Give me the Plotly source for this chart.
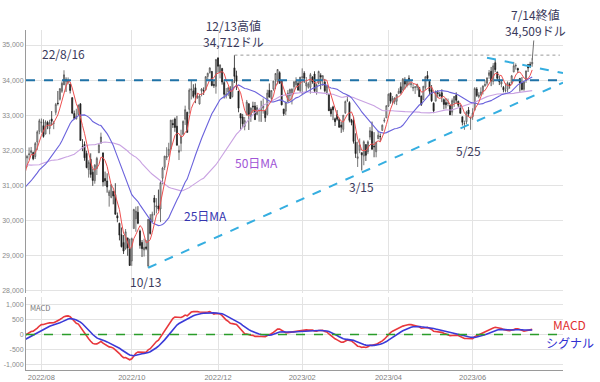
import pandas as pd
import plotly.graph_objects as go

# ---------------- data ----------------
holidays = ['2022-05-30', '2022-06-20', '2022-07-04', '2022-09-05', '2022-11-24', '2022-12-26',
            '2023-01-02', '2023-01-16', '2023-02-20', '2023-04-07', '2023-05-29', '2023-06-19', '2023-07-04']

# closes before the visible window (used only for moving averages / MACD warm-up)
warm_close = [33062, 33129, 34061, 32998, 32899, 32246, 32161, 31834, 31730, 32197, 32223, 32655, 31490, 31254,
              31262, 31880, 31929, 32120, 32637, 33213, 32990,
              32813, 33248, 32900, 32916, 33180, 32910, 32273, 31393, 30517, 30365, 30669, 29927, 29889, 30530,
              30484, 30677, 31501, 31439, 30947, 31029, 30775,
              31097, 30968, 31037, 31385, 31338, 31174, 30982, 30773, 30631, 31288, 31073, 31828, 31874]

opens = [31786, 31879, 31940, 31939, 31827, 32239, 32542,
         32784, 32704, 32464, 32794, 32622, 32893, 32771, 33084, 33344, 33457, 33683, 33864, 34011, 33943, 33890, 33501, 33049, 32896, 33023, 33325, 32106, 32175, 31914,
         31454, 31748, 31380, 31138, 31483, 31932, 32203, 31930, 31202, 31131, 30717, 30664, 30841, 30741, 30141, 29926, 29601, 29378, 29207, 29511, 29208,
         28855, 29776, 30055, 30241, 29706, 29381, 29169, 29255, 28713, 30049, 29979, 30645, 30389, 30416, 30333, 31207, 31519, 31796, 31872, 32048, 32767,
         32894, 32690, 31945, 32202, 32459, 32889, 33083, 33170, 33718, 33697, 33781, 33495, 33323, 33687, 33708, 33729, 34105, 34219, 34249, 33875, 33825,
         34634, 34225, 34329, 33930, 33580, 33663, 33721, 33533, 34349, 34125, 33688, 33044, 32950, 32684, 33006, 33331, 32961, 33264, 33265, 33021, 33121,
         33149, 33206, 33115, 33026, 33710, 33480, 33747, 34002, 33950, 34212, 33990, 33180, 33118, 33392, 33560, 33602, 33812, 33867, 33910, 33700,
         34080, 34199, 33834, 33798, 33796, 34087, 34174, 33652, 33908, 34135, 34017, 33946, 33648, 33585, 33177, 33239, 32900, 33024, 32879,
         32722, 32600, 33071, 33430, 33362, 32872, 32853, 32236, 31773, 32007, 31937, 31841, 32167, 31959, 32380, 32536, 32121, 31963, 32330, 32397, 32570, 32835, 32926,
         33262, 33636, 33370, 33386, 33400, 33617, 33810, 33726, 34002, 33844, 34053, 33876, 33777, 33794, 33793, 33793, 33546, 33445, 33796,
         34132, 33965, 33722, 33342, 33401, 33642, 33588, 33640, 33445, 33361, 33342, 33276, 33090, 33360, 33568, 33401, 33241, 32959, 32758, 32816, 33148, 32905,
         32956, 33144, 33745, 33529, 33587, 33675, 33842, 33913, 34135, 34252, 33963, 34495, 34227, 34008, 33890, 33795, 33698, 33738, 33885, 33917, 34234,
         34400, 34334, 34050, 33917, 33740, 33990, 34447, 34452, 34462]

highs = [31874, 32085, 32098, 31967, 32241, 32571, 32900,
         32909, 32884, 32857, 32843, 32873, 33120, 32838, 33351, 33692, 33761, 33963, 34281, 34079, 34077, 33890, 33512, 33134, 33186, 33300, 33343, 32321, 32256, 31991,
         31719, 31918, 31481, 31611, 31818, 32191, 32506, 31940, 31398, 31348, 30878, 31038, 30844, 31067, 30232, 29942, 29807, 29592, 29763, 29511, 29487,
         29519, 30340, 30400, 30414, 29748, 29450, 29489, 29449, 30039, 30185, 30257, 30730, 30643, 30886, 31125, 31534, 31844, 32091, 32218, 32871, 32878,
         32936, 32982, 32140, 32589, 32855, 33274, 33103, 33765, 33987, 33884, 33905, 33630, 33603, 33775, 33795, 34115, 34212, 34365, 34257, 33981, 34590,
         34634, 34451, 34350, 34016, 33776, 33811, 33828, 34009, 34712, 34270, 33688, 33054, 33039, 32951, 33436, 33331, 33226, 33387, 33379, 33293, 33152,
         33414, 33479, 33151, 33727, 33906, 33707, 33974, 34199, 34317, 34252, 34000, 33180, 33375, 33716, 33760, 33765, 33977, 34082, 33990, 34086,
         34335, 34255, 34088, 33944, 34205, 34113, 34252, 33897, 34271, 34196, 34139, 34035, 33852, 33598, 33229, 33271, 32937, 33148, 32932,
         32818, 33004, 33420, 33572, 33400, 32899, 32963, 32487, 32248, 32341, 31937, 32286, 32167, 32285, 32663, 32820, 32520, 32238, 32556, 32484, 32740, 32931, 33275,
         33618, 33641, 33549, 33514, 33607, 33768, 33940, 34060, 34082, 33988, 34138, 33971, 33895, 33824, 33902, 33793, 33561, 33827, 34104,
         34257, 33965, 33860, 33369, 33711, 33717, 33664, 33740, 33480, 33490, 33475, 33294, 33478, 33547, 33652, 33415, 33305, 32959, 32848, 33128, 33236, 32967,
         33200, 33800, 33800, 33655, 33795, 33848, 33993, 34069, 34289, 34376, 34485, 34588, 34245, 34120, 33984, 33834, 33912, 33963, 33936, 34147, 34519,
         34476, 34353, 34050, 34087, 33980, 34272, 34447, 34523, 34630]

lows = [31523, 31735, 31875, 31721, 31758, 32014, 32461,
        32504, 32362, 32464, 32604, 32459, 32716, 32604, 33011, 33281, 33421, 33638, 33864, 33666, 33878, 33621, 33031, 32884, 32882, 32984, 32270, 31979, 31705, 31494,
        31226, 31222, 30991, 31053, 31301, 31932, 32203, 30976, 30990, 30797, 30400, 30638, 30467, 30172, 29956, 29440, 29240, 29053, 29171, 29003, 28715,
        28715, 29776, 29685, 29901, 29203, 28966, 28981, 29161, 28661, 29605, 29959, 30154, 30206, 30277, 29960, 31033, 31439, 31724, 31821, 32000, 32641,
        32530, 32144, 31727, 31972, 32435, 32724, 32498, 33048, 33451, 33485, 33345, 33471, 33309, 33540, 33577, 33700, 34018, 34186, 33826, 33781, 33615,
        34213, 34050, 33872, 33477, 33480, 33544, 33466, 33507, 33918, 33718, 33085, 32574, 32634, 32573, 33006, 32582, 32813, 33069, 32869, 33021, 32818,
        32813, 33047, 32812, 32994, 33500, 33417, 33700, 33744, 33878, 33899, 33284, 32982, 33005, 33390, 33407, 33308, 33667, 33795, 33700, 33646,
        33583, 33920, 33667, 33757, 33616, 33897, 33634, 33585, 33880, 33738, 33835, 33651, 33574, 33124, 32962, 32862, 32696, 32846, 32656,
        32500, 32529, 33040, 33377, 32799, 32715, 32194, 31787, 31529, 31922, 31429, 31579, 31699, 31895, 32302, 32030, 31805, 31805, 32330, 32268, 32556, 32789, 32926,
        33237, 33330, 33313, 33314, 33290, 33617, 33600, 33700, 33740, 33791, 33850, 33788, 33686, 33608, 33708, 33519, 33264, 33445, 33725,
        33995, 33570, 33380, 33060, 33401, 33508, 33522, 33374, 33171, 33189, 33256, 33011, 32994, 33239, 33330, 33234, 33050, 32711, 32587, 32746, 32960, 32586,
        32869, 33144, 33522, 33484, 33556, 33594, 33812, 33846, 34038, 33830, 33873, 34234, 33997, 33860, 33797, 33654, 33650, 33654, 33757, 33904, 34224,
        34300, 34203, 33672, 33705, 33695, 33924, 34231, 34344, 34381]

closes = [31827, 31899, 31990, 31762, 32197, 32529, 32845,
          32798, 32397, 32813, 32726, 32803, 32832, 32774, 33309, 33336, 33761, 33912, 34152, 33980, 33999, 33706, 33063, 32909, 32969, 33291, 32283, 32098, 31790, 31510,
          31656, 31318, 31145, 31581, 31775, 32152, 32381, 31105, 31135, 30962, 30822, 31020, 30706, 30184, 30077, 29590, 29260, 29135, 29684, 29226, 28726,
          29490, 30317, 30274, 29927, 29297, 29203, 29239, 29211, 30039, 29635, 30186, 30524, 30424, 30334, 31083, 31500, 31837, 31839, 32034, 32861, 32733,
          32653, 32148, 32001, 32403, 32827, 33161, 32514, 33716, 33748, 33537, 33593, 33554, 33547, 33746, 33700, 34098, 34195, 34347, 33849, 33853, 34590,
          34395, 34430, 33947, 33597, 33598, 33781, 33476, 34005, 34108, 33966, 33203, 32920, 32757, 32850, 33377, 33027, 33204, 33241, 32876, 33221, 33147,
          33136, 33270, 32930, 33631, 33518, 33704, 33974, 34190, 34303, 33910, 33297, 33045, 33375, 33630, 33734, 33744, 33950, 33978, 33717, 34086,
          34093, 34054, 33926, 33891, 34156, 33949, 33699, 33869, 34246, 34089, 34128, 33697, 33827, 33130, 33045, 33154, 32817, 32889, 32657,
          32662, 33004, 33391, 33431, 32856, 32798, 32255, 31910, 31819, 32155, 31875, 32247, 31862, 32245, 32561, 32030, 32105, 32238, 32433, 32395, 32718, 32860, 33274,
          33601, 33403, 33483, 33486, 33587, 33685, 33647, 34030, 33887, 33988, 33977, 33897, 33787, 33809, 33876, 33531, 33302, 33827, 34098,
          34051, 33684, 33414, 33128, 33675, 33619, 33562, 33531, 33310, 33301, 33349, 33012, 33420, 33535, 33427, 33286, 33056, 32800, 32765, 33093, 33043, 32908,
          33061, 33763, 33563, 33573, 33665, 33834, 33877, 34066, 34212, 33979, 34408, 34299, 34054, 33952, 33946, 33727, 33714, 33927, 33853, 34122, 34408,
          34418, 34288, 33922, 33735, 33944, 34262, 34347, 34395, 34509]

month_ticks = ['2022-08-01', '2022-10-03', '2022-12-01', '2023-02-01', '2023-04-03', '2023-06-01']
month_labels = ['2022/08', '2022/10', '2022/12', '2023/02', '2023/04', '2023/06']
y_ticks = [28000, 29000, 30000, 31000, 32000, 33000, 34000, 35000]
macd_ticks = [-1000, -500, 0, 500, 1000]
macd_labels = ['-1,000', '-500', '0', '500', '1,000']

resistance = 34000
high_1213 = ('2022-12-13', 34712)
trend_low = [('2022-10-13', 28661), ('end', 33930)]
trend_high = [('2023-06-12', 34640), ('end', 34200)]

# ---------------- prep ----------------
all_dates = pd.bdate_range('2022-05-02', '2023-07-14')
all_dates = all_dates[~all_dates.isin(pd.to_datetime(holidays))]
n_warm = len(warm_close)
assert len(all_dates) == n_warm + len(closes), (len(all_dates), n_warm, len(closes))
for arr in (opens, highs, lows):
    assert len(arr) == len(closes)

xi = list(range(-n_warm, len(closes)))  # trading-day index, 0 = first visible day
pos = {d.strftime('%Y-%m-%d'): i for d, i in zip(all_dates, xi)}
X_END = 261.0
def px(d):
    return X_END if d == 'end' else pos[d]

cs = pd.Series(warm_close + closes, dtype=float)
ma5 = cs.rolling(5).mean()
ma25 = cs.rolling(25).mean()
ma50 = cs.rolling(50).mean()
ema12 = cs.ewm(span=12, adjust=False).mean()
ema26 = cs.ewm(span=26, adjust=False).mean()
macd = ema12 - ema26
signal = macd.ewm(span=9, adjust=False).mean()

s = n_warm - 1  # include one earlier point so lines reach the left edge
xs = xi[s:]

TXT = '#3a3a5c'
FONT = 'Noto Sans CJK JP, Noto Sans, sans-serif'
TICKFONT = 'Liberation Sans, Arial, sans-serif'

fig = go.Figure()
fig.add_trace(go.Candlestick(
    x=xi[n_warm:], open=opens, high=highs, low=lows, close=closes,
    increasing=dict(fillcolor='#d6d6d6', line=dict(color='#555555', width=0.8)),
    decreasing=dict(fillcolor='#1e1e1e', line=dict(color='#1e1e1e', width=0.8)),
    whiskerwidth=0, xaxis='x', yaxis='y', showlegend=False, hoverinfo='skip'))
fig.add_trace(go.Scatter(x=xs, y=ma50[s:], mode='lines', line=dict(color='#c9a2e2', width=1.1),
                         xaxis='x', yaxis='y', showlegend=False, hoverinfo='skip'))
fig.add_trace(go.Scatter(x=xs, y=ma25[s:], mode='lines', line=dict(color='#6a62dc', width=1.1),
                         xaxis='x', yaxis='y', showlegend=False, hoverinfo='skip'))
fig.add_trace(go.Scatter(x=xs, y=ma5[s:], mode='lines', line=dict(color='#ee5050', width=1),
                         xaxis='x', yaxis='y', showlegend=False, hoverinfo='skip'))
fig.add_trace(go.Scatter(x=xs, y=macd[s:], mode='lines', line=dict(color='#e8383d', width=1.6),
                         xaxis='x2', yaxis='y2', showlegend=False, hoverinfo='skip'))
fig.add_trace(go.Scatter(x=xs, y=signal[s:], mode='lines', line=dict(color='#3a3ad8', width=1.6),
                         xaxis='x2', yaxis='y2', showlegend=False, hoverinfo='skip'))

tickpos = [pos[d] for d in month_ticks]
shapes = [
    dict(type='line', xref='x', yref='y', x0=-0.5, x1=X_END, y0=resistance, y1=resistance,
         line=dict(color='#1f72a6', width=2, dash='dash')),
    dict(type='line', xref='x', yref='y', x0=pos[high_1213[0]], x1=259.5, y0=high_1213[1], y1=high_1213[1],
         line=dict(color='#9a9a9a', width=1, dash='dot')),
    dict(type='line', xref='x', yref='y', x0=px(trend_low[0][0]), y0=trend_low[0][1],
         x1=px(trend_low[1][0]), y1=trend_low[1][1], line=dict(color='#35aee0', width=2, dash='dash')),
    dict(type='line', xref='x', yref='y', x0=px(trend_high[0][0]), y0=trend_high[0][1],
         x1=px(trend_high[1][0]), y1=trend_high[1][1], line=dict(color='#35aee0', width=2, dash='dash')),
    dict(type='line', xref='x2', yref='y2', x0=-0.5, x1=X_END, y0=0, y1=0,
         line=dict(color='#2a9d2a', width=1.6, dash='dash')),
]

ann = []
def label(text, x, y, color=TXT, size=12, xref='x', yref='y', xanchor='center', **kw):
    ann.append(dict(text=text, x=x, y=y, xref=xref, yref=yref, showarrow=False, xanchor=xanchor,
                    font=dict(size=size, color=color, family=FONT), **kw))

label('22/8/16', pos['2022-08-16'], 34772)
label('12/13高値<br>34,712ドル', pos['2022-12-13'] - 0.5, 35341)
label('10/13', pos['2022-10-13'] - 1.5, 28256)
label('3/15', pos['2023-03-15'], 30987)
label('5/25', pos['2023-05-25'] + 2, 31984)
label('50日MA', 111.6, 31670, color='#a055d6')
label('25日MA', 86.8, 30162, color='#3535b0')
label('MACD', 1.013, 345, color='#e03030', size=12, xref='paper', yref='y2', borderpad=0)
label('シグナル', 1.013, -275, color='#3030d0', size=12, xref='paper', yref='y2', borderpad=0)
label('MACD', 0.003, 880, color='#777777', size=7.5, xref='paper', yref='y2', xanchor='left')
ann.append(dict(text='7/14終値<br>34,509ドル', x=pos['2023-07-14'], y=34560, xref='x', yref='y',
                showarrow=True, arrowhead=0, arrowwidth=1, arrowcolor='#707070', ax=3, ay=-38,
                font=dict(size=12, color=TXT, family=FONT)))

grid = '#e3e3e3'
fig.update_layout(
    width=600, height=382, margin=dict(l=26, r=37, t=30, b=12, autoexpand=False),
    paper_bgcolor='white', plot_bgcolor='white',
    font=dict(family=FONT),
    xaxis=dict(domain=[0, 1], anchor='y', range=[-0.5, X_END], tickvals=tickpos, showticklabels=False,
               showgrid=True, gridcolor=grid, zeroline=False, rangeslider=dict(visible=False), ticks='',
               automargin=False),
    yaxis=dict(domain=[0.2265, 1], range=[27943, 35427], tickvals=y_ticks, tickformat=',',
               showgrid=True, gridcolor=grid, zeroline=False, showline=True, linecolor='#9a9a9a',
               tickfont=dict(size=7, color='#8a8a8a', family=TICKFONT), ticks='', automargin=False),
    xaxis2=dict(domain=[0, 1], anchor='y2', range=[-0.5, X_END], tickvals=tickpos, ticktext=month_labels,
                showgrid=True, gridcolor=grid, zeroline=False, showline=True, linecolor='#9a9a9a',
                tickfont=dict(size=7.5, color='#808080', family=TICKFONT), ticks='', automargin=False),
    yaxis2=dict(domain=[0, 0.2147], range=[-1167, 1233], tickvals=macd_ticks, ticktext=macd_labels,
                showgrid=True, gridcolor=grid, zeroline=False, showline=True, linecolor='#9a9a9a',
                tickfont=dict(size=7, color='#8a8a8a', family=TICKFONT), ticks='', automargin=False),
    shapes=shapes, annotations=ann,
)

fig.write_html('out.html')
